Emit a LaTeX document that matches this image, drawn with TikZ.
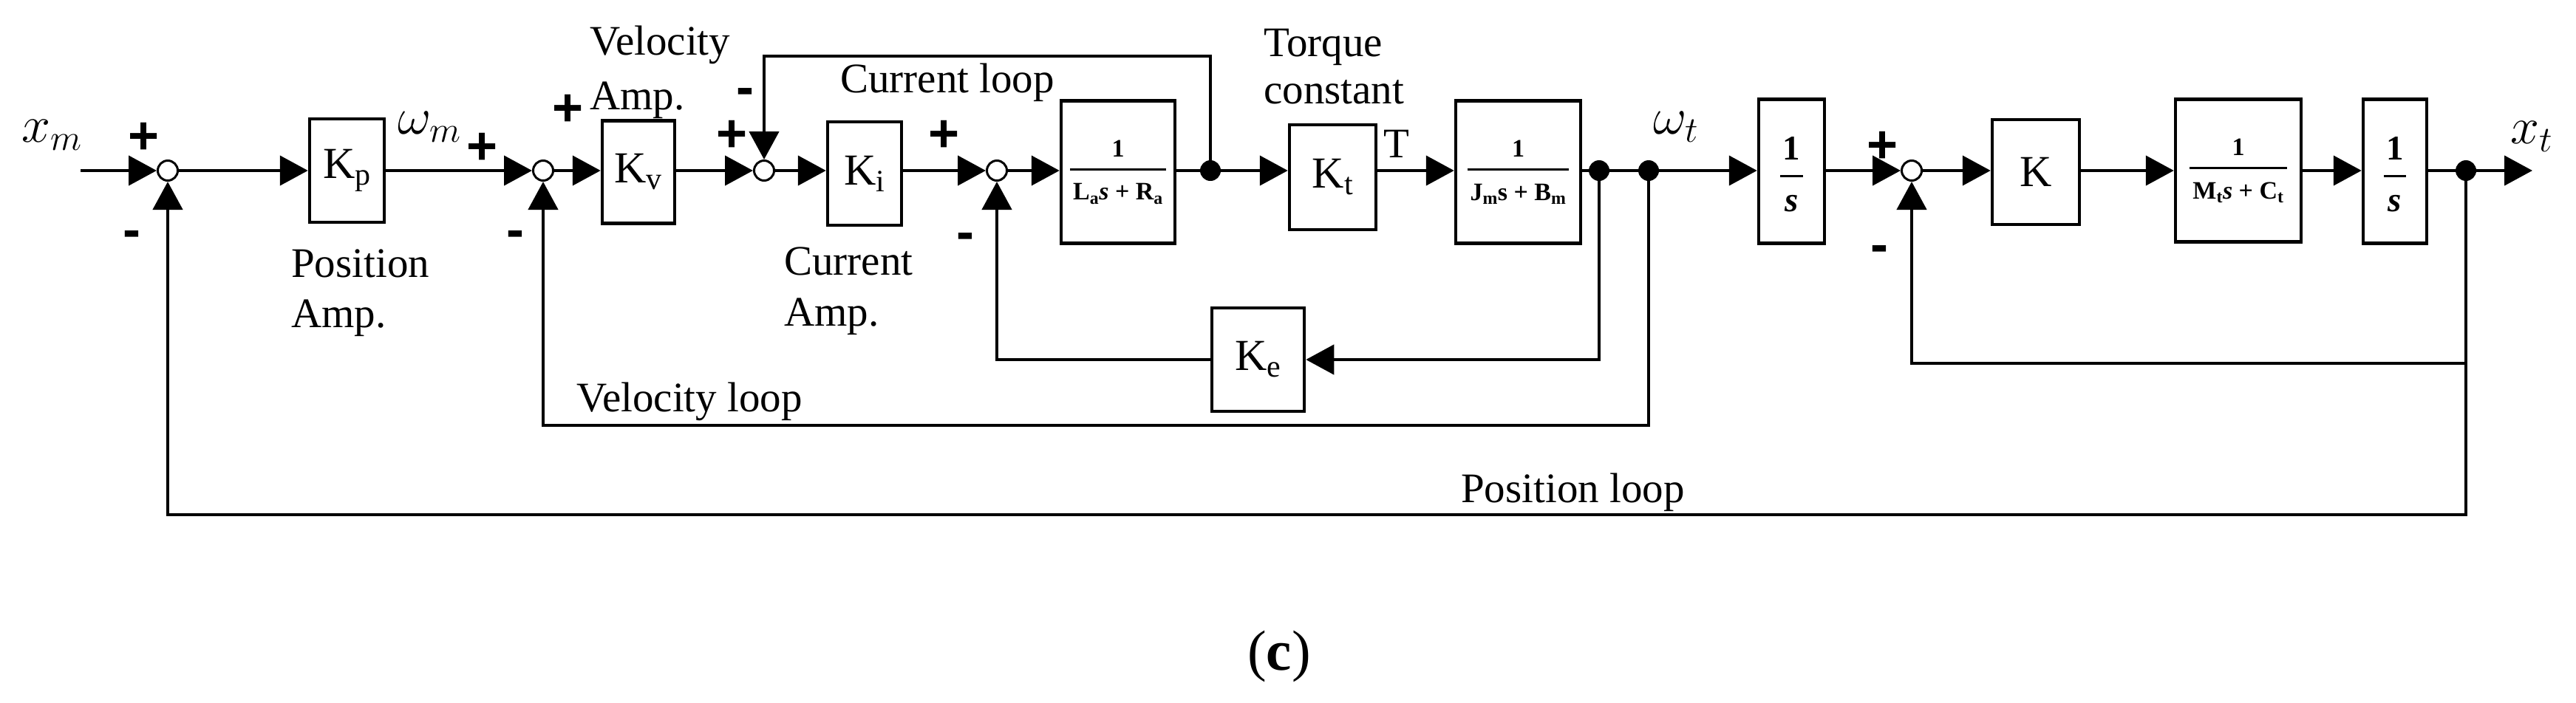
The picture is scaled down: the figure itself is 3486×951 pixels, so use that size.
\RequirePackage{fix-cm}
\documentclass[tikz,border=0pt]{standalone}
\usepackage{amsmath}
\usepackage{fontspec}
\setmainfont{Liberation Serif}
\newfontfamily\sgnfont{Liberation Sans}
\usetikzlibrary{arrows.meta}
\newcommand\labfont{\fontsize{57}{62}\selectfont}
\newcommand\boxfont{\fontsize{60}{66}\selectfont}
\newcommand\fracfont{\fontsize{34}{38}\selectfont}
\newcommand\invfont{\fontsize{47}{50}\selectfont}
\newcommand\mathlab{\fontsize{70}{76}\selectfont}
\newcommand\sgnsize{\sgnfont\bfseries\fontsize{72}{76}\selectfont}
\newsavebox\denbox
% #1 numerator, #2 denominator, #3 gap above rule, #4 gap below rule, #5 extra rule length
\newcommand\bfrac[5]{%
  \sbox\denbox{#2}%
  \parbox{\dimexpr\wd\denbox+#5\relax}{\centering
    \baselineskip=0pt\lineskiplimit=0pt\lineskip=0pt
    #1\par\vspace{#3}%
    \rule{\dimexpr\wd\denbox+#5\relax}{2.5pt}\par\vspace{#4}%
    \usebox\denbox\par}}
\begin{document}
\begin{tikzpicture}[x=1pt,y=-1pt,
  wire/.style={line width=4.5pt},
  arr/.style={line width=4.5pt,-{Triangle[length=38pt,width=40pt]}},
  blk/.style={draw,line width=4.5pt,inner sep=0pt,fill=white},
  sumc/.style={circle,draw,line width=3pt,fill=white,minimum size=27pt,inner sep=0pt},
  dotc/.style={circle,fill=black,minimum size=28pt,inner sep=0pt},
  lbl/.style={font=\labfont,inner sep=0pt,anchor=base west},
  mlbl/.style={font=\mathlab,inner sep=0pt},
  sgnp/.style={font=\sgnsize,inner sep=0pt,anchor=base},
  sgnm/.style={font=\sgnsize,inner sep=0pt,anchor=base}]
\useasboundingbox (0,0) rectangle (3486,951);

% summing junctions
\node[sumc] (s1) at (227,231) {};
\node[sumc] (s2) at (735,231) {};
\node[sumc] (s3) at (1034,231) {};
\node[sumc] (s4) at (1349,231) {};
\node[sumc] (s5) at (2587,231) {};

% blocks
\node[blk,minimum width=101pt,minimum height=140pt,font=\boxfont] (kp) at (469.5,231) {K\textsubscript{p}};
\node[blk,minimum width=98pt,minimum height=139pt,font=\boxfont] (kv) at (864,233) {K\textsubscript{v}};
\node[blk,minimum width=100pt,minimum height=140pt,font=\boxfont] (ki) at (1170,235) {K\textsubscript{i}};
\node[blk,minimum width=154pt,minimum height=193pt,font=\fracfont\bfseries] (la) at (1513,233)
  {\bfrac{1}{L\textsubscript{a}\textit{s} + R\textsubscript{a}}{16pt}{18pt}{8pt}};
\node[blk,minimum width=117pt,minimum height=142pt,font=\boxfont] (kt) at (1803.5,240) {K\textsubscript{t}};
\node[blk,minimum width=169pt,minimum height=193pt,font=\fracfont\bfseries] (jm) at (2054.5,233)
  {\bfrac{1}{J\textsubscript{m}s + B\textsubscript{m}}{16pt}{18pt}{8pt}};
\node[blk,minimum width=89pt,minimum height=195pt,font=\invfont\bfseries] (i1) at (2424.5,232)
  {\bfrac{\vspace*{8pt}1}{\textit{s}}{21pt}{24pt}{12pt}};
\node[blk,minimum width=118pt,minimum height=142pt,font=\boxfont] (kk) at (2755,233) {K};
\node[blk,minimum width=170pt,minimum height=193pt,font=\fracfont\bfseries] (mt) at (3029,231)
  {\bfrac{1}{M\textsubscript{t}\textit{s} + C\textsubscript{t}}{16pt}{18pt}{8pt}};
\node[blk,minimum width=86pt,minimum height=195pt,font=\invfont\bfseries] (i2) at (3241,232)
  {\bfrac{\vspace*{8pt}1}{\textit{s}}{21pt}{24pt}{12pt}};
\node[blk,minimum width=125pt,minimum height=140pt,font=\boxfont] (ke) at (1702.5,487) {K\textsubscript{e}};

% branch points
\node[dotc] (d1) at (1638,231) {};
\node[dotc] (d2) at (2164,231) {};
\node[dotc] (d3) at (2231,231) {};
\node[dotc] (d4) at (3337,231) {};

% free ends and corners
\coordinate (in) at (109,231);
\coordinate (out) at (3427,231);
\coordinate (cltop) at (1638,76);
\coordinate (vl) at (2231,576);
\coordinate (sl) at (3337,492);
\coordinate (pl) at (3337,697);

% forward path
\draw[arr] (in) -- (s1);
\draw[arr] (s1) -- (kp.west |- s1);
\draw[arr] (kp.east |- s2) -- (s2);
\draw[arr] (s2) -- (kv.west |- s2);
\draw[arr] (kv.east |- s3) -- (s3);
\draw[arr] (s3) -- (ki.west |- s3);
\draw[arr] (ki.east |- s4) -- (s4);
\draw[arr] (s4) -- (la.west |- s4);
\draw[wire] (la.east |- d1) -- (d1);
\draw[arr] (d1) -- (kt.west |- d1);
\draw[arr] (kt.east |- d1) -- (jm.west |- d1);
\draw[wire] (jm.east |- d2) -- (d2);
\draw[wire] (d2) -- (d3);
\draw[arr] (d3) -- (i1.west |- d3);
\draw[arr] (i1.east |- s5) -- (s5);
\draw[arr] (s5) -- (kk.west |- s5);
\draw[arr] (kk.east |- s5) -- (mt.west |- s5);
\draw[arr] (mt.east |- d4) -- (i2.west |- d4);
\draw[wire] (i2.east |- d4) -- (d4);
\draw[arr] (d4) -- (out);

% feedback loops
\draw[arr] (d1) -- (cltop) -| (s3.north);
\draw[arr] (d2) |- (ke.east);
\draw[arr] (ke.west) -| (s4.south);
\draw[arr] (d3) -- (vl) -| (s2.south);
\draw[arr] (d4) -- (pl) -| (s1.south);
\draw[arr] (sl) -| (s5.south);

% signals
\node[mlbl] (xm) at (70,183) {$x_m$};
\node[mlbl] (wm) at (581,172) {$\omega_m$};
\node[mlbl] (wt) at (2268,172) {$\omega_t$};
\node[mlbl] (xt) at (3426,185) {$x_t$};
\node[lbl] (tq) at (1872,213) {T};

% signs
\node[sgnp] (p1) at (195,208) {+};
\node[sgnp] (p2) at (653,222) {+};
\node[sgnp] (p3) at (769,170) {+};
\node[sgnp] (p4) at (991,205) {+};
\node[sgnp] (p5) at (1278,205) {+};
\node[sgnp] (p6) at (2547,220) {+};
\node[sgnm] (m1) at (178,335) {-};
\node[sgnm] (m2) at (697,335) {-};
\node[sgnm] (m3) at (1008,142) {-};
\node[sgnm] (m4) at (1306,338) {-};
\node[sgnm] (m5) at (2543,355) {-};

% annotations
\node[lbl] (va1) at (798,74) {Velocity};
\node[lbl] (va2) at (798,148) {Amp.};
\node[lbl] (pa1) at (394,375) {Position};
\node[lbl] (pa2) at (394,443) {Amp.};
\node[lbl] (ca1) at (1061,372) {Current};
\node[lbl] (ca2) at (1061,441) {Amp.};
\node[lbl] (cl) at (1137,125) {Current loop};
\node[lbl] (tc1) at (1710,76) {Torque};
\node[lbl] (tc2) at (1710,140) {constant};
\node[lbl] (vlb) at (780,557) {Velocity loop};
\node[lbl] (plb) at (1977,680) {Position loop};

\node[font=\fontsize{77}{80}\selectfont,inner sep=0pt] (cap) at (1731,889) {(\textbf{c})};
\end{tikzpicture}
\end{document}
